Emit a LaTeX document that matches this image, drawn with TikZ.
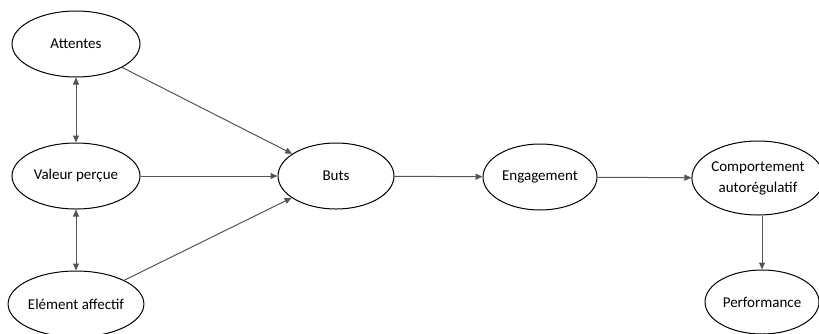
\documentclass[tikz,border=0pt]{standalone}
\usepackage{fontspec}
\setmainfont{Carlito}
\usetikzlibrary{shapes.geometric,arrows.meta}
\definecolor{linegray}{HTML}{555555}
\tikzset{
  oval/.style={ellipse, draw=black, line width=1pt, inner sep=0pt, align=center,
    font=\fontsize{15}{21}\selectfont, text=black},
  conn/.style={draw=linegray, line width=1pt, -{Triangle[length=7pt,width=6pt]}},
  biconn/.style={draw=linegray, line width=1pt, {Triangle[length=7pt,width=6pt]}-{Triangle[length=7pt,width=6pt]}}
}
\begin{document}
\begin{tikzpicture}[x=1pt,y=-1pt]
\useasboundingbox (0,0) rectangle (819,333);
\node[oval, minimum width=128pt, minimum height=66pt] (att) at (76,44) {Attentes};
\node[oval, minimum width=128pt, minimum height=66pt] (val) at (76,176) {Valeur perçue};
\node[oval, minimum width=128pt, minimum height=66pt] (aff) at (76,304) {Elément affectif};
\node[oval, minimum width=116pt, minimum height=66pt] (buts) at (336,176) {Buts};
\node[oval, minimum width=114pt, minimum height=66pt] (eng) at (540,177) {Engagement};
\node[oval, minimum width=124pt, minimum height=74pt] (comp) at (758,178) {Comportement\\autorégulatif};
\node[oval, minimum width=114pt, minimum height=64pt] (perf) at (762,302) {Performance};
\draw[biconn] (att) -- (val);
\draw[biconn] (val) -- (aff);
\draw[conn] (att) -- (buts);
\draw[conn] (val) -- (buts);
\draw[conn] (aff) -- (buts);
\draw[conn] (buts) -- (eng);
\draw[conn] (eng) -- (comp);
\draw[conn] (comp.south -| perf.north) -- (perf.north);
\end{tikzpicture}
\end{document}
